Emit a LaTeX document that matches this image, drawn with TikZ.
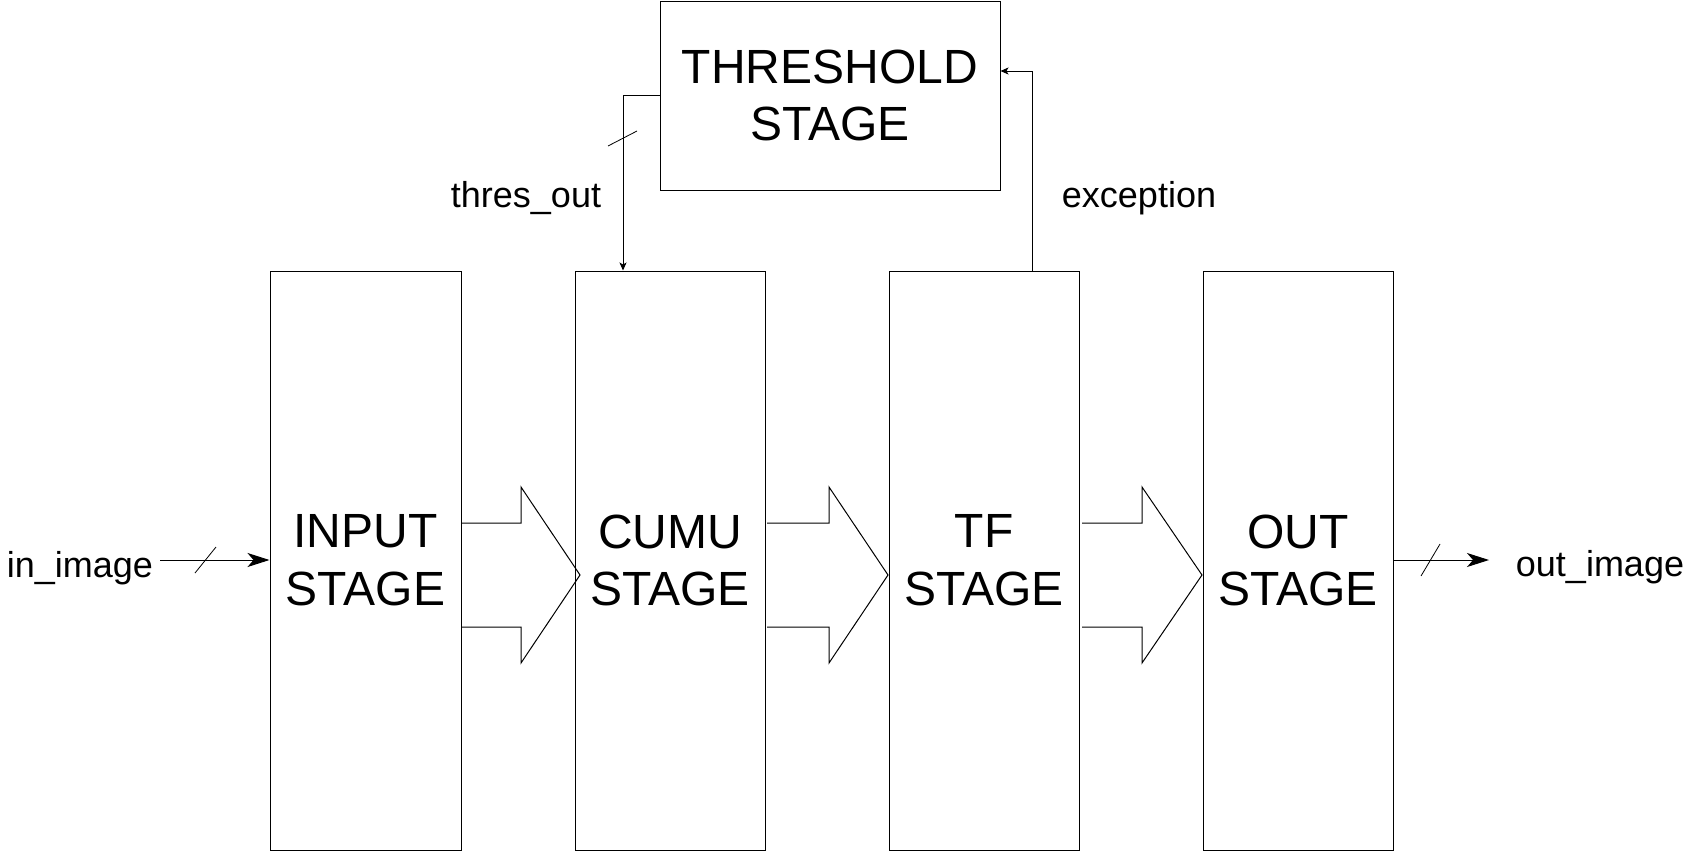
\documentclass[tikz,border=0pt]{standalone}
\usepackage{fontspec}
\setmainfont{Liberation Sans}
\usetikzlibrary{arrows.meta}
\begin{document}
\begin{tikzpicture}[x=1pt,y=-1pt,
  stagebox/.style={draw,line width=1pt,rectangle,inner sep=0pt,minimum width=190pt,minimum height=579pt,align=center,font=\fontsize{48}{57.6}\selectfont},
  lbl/.style={font=\fontsize{36}{43}\selectfont,inner sep=0pt},
  wire/.style={line width=1pt},
  bigtip/.style={-{Stealth[length=22pt,width=14pt,inset=6pt]}},
  smalltip/.style={-{Stealth[length=8pt,width=7pt,inset=2pt]}},
  blockarrow/.style={line width=1pt,line join=miter},
  tick/.style={line width=0.8pt}]
\useasboundingbox (0,0) rectangle (1692,852);

% stage boxes
\node[stagebox,minimum width=191pt] (input) at (365.5,560.5) {INPUT\\STAGE};
\node[stagebox] (cumu) at (670,560.5) {CUMU\\STAGE};
\node[stagebox] (tf) at (984,560.5) {TF\\STAGE};
\node[stagebox] (out) at (1298,560.5) {OUT\\STAGE};
\node[stagebox,minimum width=340pt,minimum height=189pt] (thr) at (830,95.5) {THRESHOLD\\STAGE};

% labels
\node[lbl,anchor=base] (inlbl) at (80,577) {in\_image};
\node[lbl,anchor=base] (outlbl) at (1600,576) {out\_image};
\node[lbl,anchor=base] (thrlbl) at (526,207) {thres\_out};
\node[lbl,anchor=base] (exclbl) at (1139,207) {exception};

% in / out wires
\coordinate (inS) at (160,560);
\coordinate (outE) at (1489,560);
\draw[wire,bigtip] (inS) -- (inS -| input.west);
\draw[tick] (195,573) -- (216,547);
\draw[wire,bigtip] (out.east |- outE) -- (outE);
\draw[tick] (1421,576) -- (1440,544);

% thres_out wire
\coordinate (tA) at (623,95);
\draw[wire,smalltip] (thr.west |- tA) -- (tA) -- (tA |- cumu.north);
\draw[tick] (608,146) -- (637,131);

% exception wire
\coordinate (eA) at (1032,71);
\draw[wire,smalltip] (eA |- tf.north) -- (eA) -- (eA -| thr.east);

% block arrows
\draw[blockarrow] (input.east |- 0,523) -- (521,523) -- (521,487) -- (580,575) -- (521,663) -- (521,627) -- (input.east |- 0,627);
\draw[blockarrow] (767,523) -- (829,523) -- (829,487) -- (888,575) -- (829,663) -- (829,627) -- (767,627);
\draw[blockarrow] (1082,523) -- (1142,523) -- (1142,487) -- (1202,575) -- (1142,663) -- (1142,627) -- (1082,627);
\end{tikzpicture}
\end{document}
